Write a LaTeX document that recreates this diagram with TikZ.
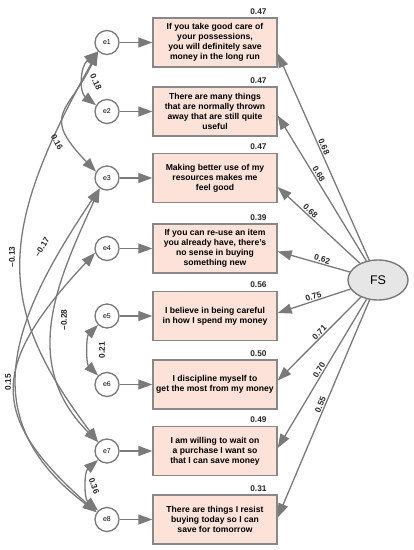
\documentclass[tikz,border=0pt]{standalone}
\usepackage{fontspec}
\setmainfont{Liberation Sans}
\usetikzlibrary{arrows.meta,shapes.geometric,calc}
\definecolor{linegray}{HTML}{7A7A7A}
\definecolor{boxborder}{HTML}{888888}
\definecolor{boxfill}{HTML}{FCE2D8}
\definecolor{fsfill}{HTML}{E6E6E6}
\begin{document}
\begin{tikzpicture}[x=1pt,y=1pt,
  itembox/.style={draw=boxborder, line width=1.4pt, fill=boxfill, minimum width=124pt,
    minimum height=49pt, align=center, inner sep=1pt,
    font=\bfseries\fontsize{8.6}{10}\selectfont},
  errc/.style={circle, draw=linegray, line width=1.3pt, fill=white, minimum size=24pt,
    inner sep=0pt, font=\fontsize{7}{8}\selectfont},
  lat/.style={ellipse, draw=linegray, line width=1.4pt, fill=fsfill, minimum width=60pt,
    minimum height=40pt, inner sep=0pt, font=\fontsize{12.5}{14}\selectfont},
  conn/.style={draw=linegray, line width=1.3pt, -{Triangle[length=14pt,width=10pt]}},
  cov/.style={draw=linegray, line width=1.3pt,
    {Triangle[length=14pt,width=10pt]}-{Triangle[length=14pt,width=10pt]}},
  num/.style={font=\bfseries\fontsize{8.3}{9}\selectfont, inner sep=1pt, text=black!85},
]
\useasboundingbox (0,0) rectangle (414,-550);

% item boxes
\node[itembox] (b1) at (215,-42.5) {If you take good care of\\your possessions,\\you will definitely save\\money in the long run};
\node[itembox] (b2) at (215,-111.5) {There are many things\\that are normally thrown\\away that are still quite\\useful};
\node[itembox] (b3) at (215,-178) {Making better use of my\\resources makes me\\feel good};
\node[itembox] (b4) at (215,-248.5) {If you can re-use an item\\you already have, there's\\no sense in buying\\something new};
\node[itembox] (b5) at (215,-316) {I believe in being careful\\in how I spend my money};
\node[itembox] (b6) at (215,-384.5) {I discipline myself to\\get the most from my money};
\node[itembox] (b7) at (215,-451) {I am willing to wait on\\a purchase I want so\\that I can save money};
\node[itembox] (b8) at (215,-519.5) {There are things I resist\\buying today so I can\\save for tomorrow};

% R squared
\node[num, anchor=south east] (r1) at ($(b1.north east)+(-10,2)$) {0.47};
\node[num, anchor=south east] (r2) at ($(b2.north east)+(-10,2)$) {0.47};
\node[num, anchor=south east] (r3) at ($(b3.north east)+(-10,2)$) {0.47};
\node[num, anchor=south east] (r4) at ($(b4.north east)+(-10,2)$) {0.39};
\node[num, anchor=south east] (r5) at ($(b5.north east)+(-10,2)$) {0.56};
\node[num, anchor=south east] (r6) at ($(b6.north east)+(-10,2)$) {0.50};
\node[num, anchor=south east] (r7) at ($(b7.north east)+(-10,2)$) {0.49};
\node[num, anchor=south east] (r8) at ($(b8.north east)+(-10,2)$) {0.31};

% error terms
\node[errc] (e1) at (107,-42.5) {e1};
\node[errc] (e2) at (107,-111.5) {e2};
\node[errc] (e3) at (107,-178) {e3};
\node[errc] (e4) at (107,-248.5) {e4};
\node[errc] (e5) at (107,-316) {e5};
\node[errc] (e6) at (107,-384.5) {e6};
\node[errc] (e7) at (107,-451) {e7};
\node[errc] (e8) at (107,-519.5) {e8};

\foreach \i in {1,...,8} {\draw[conn] (e\i) -- (b\i);}

% latent factor
\node[lat] (FS) at (378,-280) {FS};

\coordinate (p1) at ($(b1.east)+(0,-11)$);
\coordinate (p2) at ($(b2.east)+(0,-4)$);
\coordinate (p3) at ($(b3.east)+(0,-9)$);
\coordinate (p4) at ($(b4.east)+(0,-3)$);
\coordinate (p5) at ($(b5.east)+(0,3)$);
\coordinate (p6) at ($(b6.east)+(0,4)$);
\coordinate (p7) at ($(b7.east)+(0,3)$);
\coordinate (p8) at ($(b8.east)+(0,2)$);

\draw[conn] (FS) -- (p1) node[num, sloped, above, pos=0.54] (l1) {0.68};
\draw[conn] (FS) -- (p2) node[num, sloped, above, pos=0.58] (l2) {0.68};
\draw[conn] (FS) -- (p3) node[num, sloped, above, pos=0.64] (l3) {0.68};
\draw[conn] (FS) -- (p4) node[num, sloped, above, pos=0.40] (l4) {0.62};
\draw[conn] (FS) -- (p5) node[num, sloped, above, pos=0.49] (l5) {0.75};
\draw[conn] (FS) -- (p6) node[num, sloped, above, pos=0.46] (l6) {0.71};
\draw[conn] (FS) -- (p7) node[num, sloped, above, pos=0.49] (l7) {0.70};
\draw[conn] (FS) -- (p8) node[num, sloped, above, pos=0.49] (l8) {0.55};

% covariances
\draw[cov] (e1.225) .. controls +(-18,-15) and +(-17,13) .. (e2.150);
\draw[cov] (e1.225) .. controls +(-30,-62) and +(-56,58) .. (e3.150);
\draw[cov] (e1.225) .. controls +(-103,-184) and +(-101,134) .. (e7.135);
\draw[cov] (e3.235) .. controls +(-42,-92) and +(-79,79) .. (e7.135);
\draw[cov] (e3.235) .. controls +(-84,-125) and +(-128,96) .. (e8.145);
\draw[cov] (e4.200) .. controls +(-108,-115) and +(-106,94) .. (e8.145);
\draw[cov] (e5.225) .. controls +(-12,-12) and +(-12,12) .. (e6.135);
\draw[cov] (e7.225) .. controls +(-14,-12) and +(-14,12) .. (e8.135);

\node[num, rotate=-65] (c18) at (96,-82) {0.18};
\node[num, rotate=-62] (c16) at (57,-142) {0.16};
\node[num, rotate=90] (c13) at (12,-257) {--0.13};
\node[num, rotate=58] (c17) at (42,-247) {--0.17};
\node[num, rotate=90] (c28) at (64,-320) {--0.28};
\node[num, rotate=90] (c21) at (102,-350) {0.21};
\node[num, rotate=90] (c15) at (8,-382) {0.15};
\node[num, rotate=-70] (c36) at (94,-486) {0.36};
\end{tikzpicture}
\end{document}
